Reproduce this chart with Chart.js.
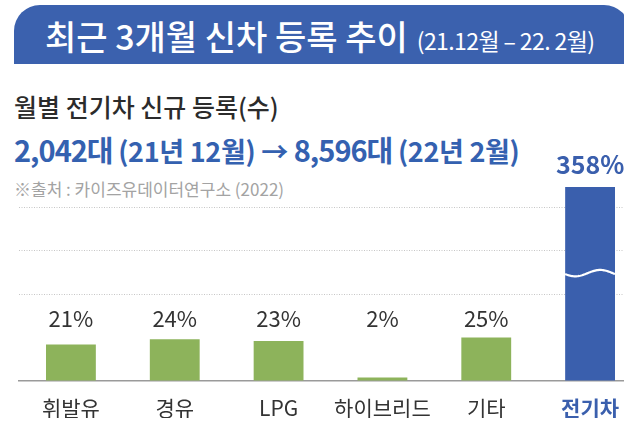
<!DOCTYPE html>
<html>
<head>
<meta charset="utf-8">
<script src="https://cdn.jsdelivr.net/npm/chart.js@4"></script>
<style>
  html, body { margin: 0; padding: 0; background: #fff; }
  body { width: 624px; height: 427px; overflow: hidden; position: relative; }
  #banner {
    position: absolute; left: 14px; top: 5px; width: 616px; height: 59px;
    background: #3b61ae; border-radius: 26px 26px 0 0;
  }
  .txt { position: absolute; left: 14px; white-space: nowrap; }
  #title { left: 45px; top: 11px; line-height: 46px; color: #fff;
    font: 500 34px 'Noto Sans CJK KR', sans-serif; }
  #title small { font: 400 23px 'Noto Sans CJK KR', sans-serif; margin-left: 9px; letter-spacing: -0.6px; }
  #sub { top: 88px; line-height: 34px; color: #2b2b2b;
    font: 500 25px 'Noto Sans CJK KR', sans-serif; }
  #blue { top: 128px; line-height: 38px; color: #3461b0;
    font: 700 29px 'Noto Sans CJK KR', sans-serif; letter-spacing: -1px; }
  #blue small { font-size: 27px; font-weight: 700; letter-spacing: -0.3px; }
  #src { top: 176px; line-height: 22px; color: #a3a3a3;
    font: 400 17px 'Noto Sans CJK KR', sans-serif; }
  #chart { position: absolute; left: 0; top: 0; }
</style>
</head>
<body>
<div id="banner"></div>
<div class="txt" id="title">최근 3개월 신차 등록 추이<small>(21.12월 – 22. 2월)</small></div>
<div class="txt" id="sub">월별 전기차 신규 등록(수)</div>
<div class="txt" id="blue">2,042대 <small>(21년 12월) → </small>8,596대 <small>(22년 2월)</small></div>
<div class="txt" id="src">※출처 : 카이즈유데이터연구소 (2022)</div>
<canvas id="chart" width="660" height="427"></canvas>

<script>
// 최근 3개월 신차 등록 증가율 (%)
const categories = ['휘발유', '경유', 'LPG', '하이브리드', '기타', '전기차'];
const growth = [21, 24, 23, 2, 25, 358];
const gridValues = [50, 75, 100];

const GREEN = '#8db35b';
const BLUE = '#3a5fad';
const KR = "'Noto Sans CJK KR', sans-serif";

// value labels + wave break on the clipped bar
const barDecor = {
    id: 'barDecor',
    afterDatasetsDraw(chart) {
        const ctx = chart.ctx;
        const meta = chart.getDatasetMeta(0);
        const y = chart.scales.y;
        ctx.save();
        ctx.textAlign = 'center';
        ctx.textBaseline = 'middle';
        meta.data.forEach((bar, i) => {
            const last = i === growth.length - 1;
            if (last) {
                ctx.fillStyle = BLUE;
                ctx.font = "700 25px " + KR;
                ctx.fillText(growth[i] + '%', bar.x, 164);
                // break mark
                const left = bar.x - bar.width / 2, w = bar.width;
                const cy = y.getPixelForValue(62);
                ctx.strokeStyle = '#fff';
                ctx.lineWidth = 2.2;
                ctx.beginPath();
                for (let t = 0; t <= 1.0001; t += 0.02) {
                    const px = left + t * w;
                    const py = cy + 3.2 * Math.sin(t * Math.PI * 2 + 0.3);
                    if (t === 0) ctx.moveTo(px, py); else ctx.lineTo(px, py);
                }
                ctx.stroke();
            } else {
                ctx.fillStyle = '#333';
                ctx.font = "400 22px " + KR;
                ctx.fillText(growth[i] + '%', bar.x, 319);
            }
        });
        ctx.restore();
    }
};

new Chart(document.getElementById('chart'), {
    type: 'bar',
    data: {
        labels: categories,
        datasets: [{
            data: growth,
            backgroundColor: categories.map((c, i) => i === categories.length - 1 ? BLUE : GREEN),
            barPercentage: 0.48,
            categoryPercentage: 1,
            clip: 0
        }]
    },
    options: {
        responsive: false,
        animation: false,
        layout: { padding: { top: 187, left: 19, right: 18, bottom: 9 } },
        plugins: { legend: { display: false }, tooltip: { enabled: false } },
        scales: {
            x: {
                afterFit: scale => { scale.height = 37; },
                grid: { display: false },
                border: { color: '#9a9a9a', width: 1.5 },
                ticks: {
                    padding: 6,
                    maxRotation: 0,
                    color: ctx => ctx.index === categories.length - 1 ? BLUE : '#333',
                    font: ctx => ({
                        family: KR,
                        size: 21,
                        weight: ctx.index === categories.length - 1 ? '700' : '400'
                    })
                }
            },
            y: {
                min: 0,
                max: 111.5,
                ticks: { display: false, stepSize: 25 },
                grid: {
                    drawTicks: false,
                    color: ctx => gridValues.includes(ctx.tick && ctx.tick.value) ? '#c6c6c6' : 'rgba(0,0,0,0)'
                },
                border: { display: false, dash: [1, 1.5] }
            }
        }
    },
    plugins: [barDecor]
});
</script>
</body>
</html>
